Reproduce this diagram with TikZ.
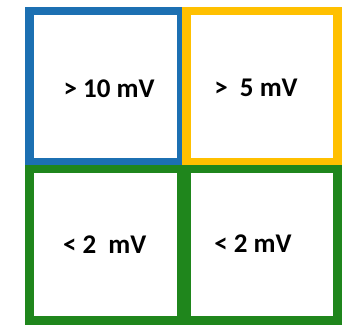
\documentclass[tikz,border=0pt]{standalone}
\usepackage{xcolor}
\usepackage{fontspec}
\usepackage{tikz}
\setmainfont{Carlito}
\definecolor{cellblue}{RGB}{28, 112, 178}
\definecolor{cellyellow}{RGB}{255, 192, 0}
\definecolor{cellgreen}{RGB}{31, 134, 28}

\begin{document}
\begin{tikzpicture}[
  x=1pt, y=1pt,
  cell/.style={draw, line width=8.6pt, minimum width=151.2pt, minimum height=151.2pt,
               inner sep=0pt, outer sep=0pt},
  value/.style={anchor=base, inner sep=0pt, font=\fontsize{27}{32}\selectfont\bfseries}
]
  \useasboundingbox (0, 0) rectangle (345, 324);

  \node[cell, cellblue]   (topleft)  at (105.35, 237.5) {};
  \node[cell, cellyellow] (topright) at (262, 237.5) {};
  \node[cell, cellgreen]  (botleft)  at (105.35, 79.35) {};
  \node[cell, cellgreen]  (botright) at (262, 79.35) {};

  \node[value] (tenmv)  at (109, 226.3) {> 10 mV};
  \node[value] (fivemv) at (256, 227.3) {>\ \ 5 mV};
  \node[value] (twomvl) at (104.7, 70.7) {< 2\ \ mV};
  \node[value] (twomvr) at (253, 71.3) {< 2 mV};
\end{tikzpicture}
\end{document}
